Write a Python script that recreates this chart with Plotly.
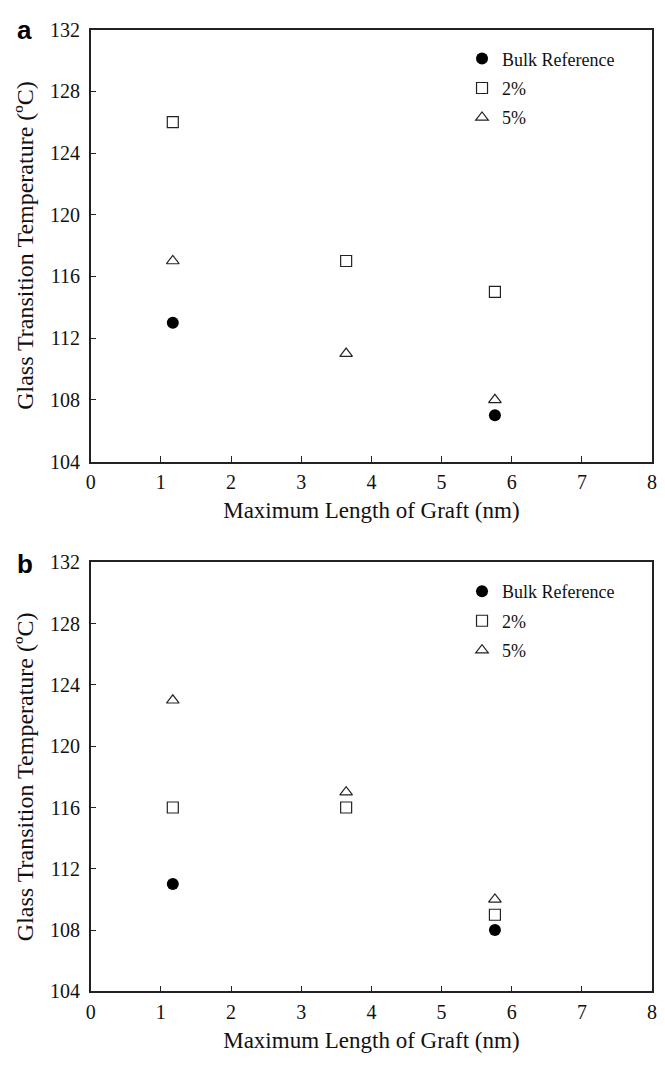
import plotly.graph_objects as go

# Data
x_bulk = [1.17, 5.76]
x_all = [1.17, 3.64, 5.76]

a_bulk = [113, 107]
a_2pct = [126, 117, 115]
a_5pct = [117, 111, 108]

b_bulk = [111, 108]
b_2pct = [116, 116, 109]
b_5pct = [123, 117, 110]

series_names = ["Bulk Reference", "2%", "5%"]
x_ticks = [0, 1, 2, 3, 4, 5, 6, 7, 8]
y_ticks = [104, 108, 112, 116, 120, 124, 128, 132]

W, H = 665, 1066
serif = "Liberation Serif"

fig = go.Figure()

def add_panel(xa, ya, legend, bulk, p2, p5):
    fig.add_trace(go.Scatter(x=x_bulk, y=bulk, mode="markers", name=series_names[0],
                             xaxis=xa, yaxis=ya, legend=legend, legendgroup=legend + "g1",
                             marker=dict(symbol="circle", size=12, color="black")))
    fig.add_trace(go.Scatter(x=x_all, y=p2, mode="markers", name=series_names[1],
                             xaxis=xa, yaxis=ya, legend=legend, legendgroup=legend + "g2",
                             marker=dict(symbol="square-open", size=11, color="#222",
                                         line=dict(width=1.2))))
    fig.add_trace(go.Scatter(x=x_all, y=p5, mode="markers", name=series_names[2],
                             xaxis=xa, yaxis=ya, legend=legend, legendgroup=legend + "g3",
                             marker=dict(symbol="triangle-up-open", size=11, color="#222",
                                         line=dict(width=1.2))))

add_panel("x", "y", "legend", a_bulk, a_2pct, a_5pct)
add_panel("x2", "y2", "legend2", b_bulk, b_2pct, b_5pct)

xdom = [87 / W, 657 / W]
ydom_a = [1 - 460 / H, 1 - 19 / H]
ydom_b = [1 - 1001 / H, 1 - 563 / H]

def axis(**kw):
    d = dict(showline=True, linecolor="#222", linewidth=1.5, mirror=True,
             ticks="inside", ticklen=6, tickcolor="#222", tickwidth=1,
             showgrid=False, zeroline=False,
             tickfont=dict(family=serif, size=20, color="#111"))
    d.update(kw)
    return d

def xtitle():
    return dict(text="Maximum Length of Graft (nm)",
                font=dict(family=serif, size=23, color="#111"), standoff=10)

def ytitle():
    return dict(text="Glass Transition Temperature (ºC)",
                font=dict(family=serif, size=24, color="#111"), standoff=10)

def legend_at(ytop):
    return dict(x=464 / W, y=1 - ytop / H, xanchor="left", yanchor="top",
                font=dict(family=serif, size=18, color="#111"), bgcolor="rgba(0,0,0,0)",
                itemwidth=30, tracegroupgap=3)

fig.update_layout(
    width=W, height=H,
    margin=dict(l=0, r=0, t=0, b=0),
    font=dict(family=serif, size=20, color="#111"),
    paper_bgcolor="white", plot_bgcolor="white",
    xaxis=axis(domain=xdom, anchor="y", range=[0, 8], tickvals=x_ticks, title=xtitle(),
               ticklabelstandoff=2),
    yaxis=axis(domain=ydom_a, anchor="x", range=[104, 132], tickvals=y_ticks, title=ytitle(),
               ticklabelstandoff=5),
    xaxis2=axis(domain=xdom, anchor="y2", range=[0, 8], tickvals=x_ticks, title=xtitle(),
                ticklabelstandoff=2),
    yaxis2=axis(domain=ydom_b, anchor="x2", range=[104, 132], tickvals=y_ticks, title=ytitle(),
                ticklabelstandoff=5),
    legend=legend_at(30),
    legend2=legend_at(574),
    annotations=[
        dict(text="<b>a</b>", x=20 / W, y=1 - 19 / H, xref="paper", yref="paper",
             xanchor="center", yanchor="middle", showarrow=False,
             font=dict(family="Liberation Sans", size=26, color="black")),
        dict(text="<b>b</b>", x=20 / W, y=1 - 565 / H, xref="paper", yref="paper",
             xanchor="center", yanchor="middle", showarrow=False,
             font=dict(family="Liberation Sans", size=26, color="black")),
    ],
)

fig.write_html("out.html")
